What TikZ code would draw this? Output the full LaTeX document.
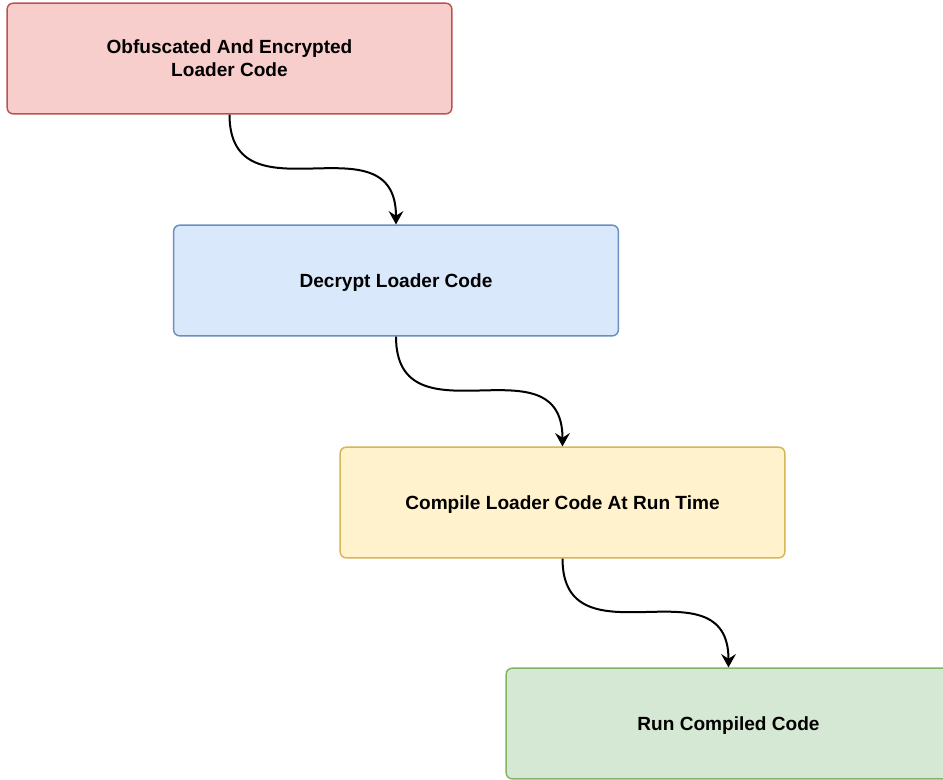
\documentclass[tikz,border=0pt]{standalone}
\usepackage{fontspec}
\setmainfont{Liberation Sans}
\usetikzlibrary{arrows.meta}
\definecolor{redfill}{HTML}{F8CECC}\definecolor{redline}{HTML}{B85450}
\definecolor{bluefill}{HTML}{DAE8FC}\definecolor{blueline}{HTML}{6C8EBF}
\definecolor{yelfill}{HTML}{FFF2CC}\definecolor{yelline}{HTML}{D6B656}
\definecolor{grnfill}{HTML}{D5E8D4}\definecolor{grnline}{HTML}{82B366}
\tikzset{
  stepbox/.style={rectangle, rounded corners=4.5pt, line width=1.1pt,
    minimum width=333.5pt, minimum height=83pt, inner sep=0pt, align=center,
    text depth=0pt,
    font=\fontsize{14.3}{17.3}\selectfont\bfseries},
  flow/.style={line width=1.5pt, -{Stealth[length=10pt,width=11pt,inset=3.5pt]}}
}
\begin{document}
\begin{tikzpicture}[x=0.75pt,y=-0.75pt]
\useasboundingbox (0,0) rectangle (943,779);
\clip (0,0) rectangle (943,779);
\node[stepbox, fill=redfill, draw=redline] (a) at (229.5,58.5) {Obfuscated And Encrypted\\Loader Code};
\node[stepbox, fill=bluefill, draw=blueline] (b) at (396,280.5) {Decrypt Loader Code};
\node[stepbox, fill=yelfill, draw=yelline] (c) at (562.5,502.5) {Compile Loader Code At Run Time};
\node[stepbox, fill=grnfill, draw=grnline] (d) at (728.5,723.5) {Run Compiled Code};
\draw[flow] (a.south) .. controls (a.south |- b.north) and (b.north |- a.south) .. (b.north);
\draw[flow] (b.south) .. controls (b.south |- c.north) and (c.north |- b.south) .. (c.north);
\draw[flow] (c.south) .. controls (c.south |- d.north) and (d.north |- c.south) .. (d.north);
\end{tikzpicture}
\end{document}
